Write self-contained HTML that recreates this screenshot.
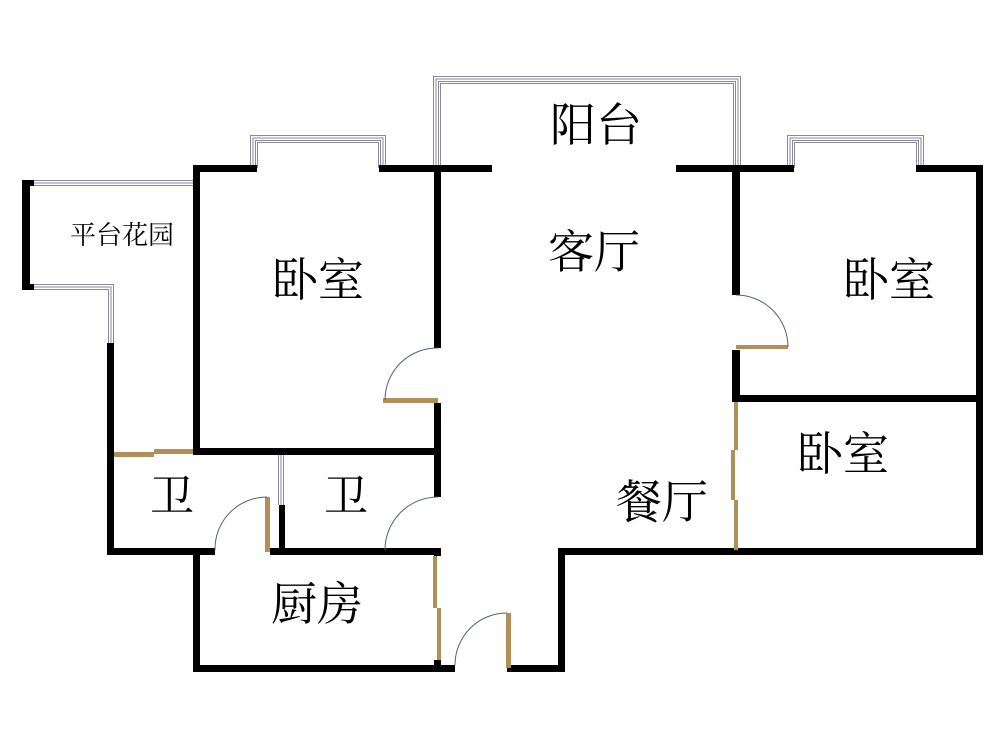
<!DOCTYPE html>
<html><head><meta charset="utf-8"><style>
html,body{margin:0;padding:0;background:#fff;width:1000px;height:742px;overflow:hidden}
svg text{font-family:"Noto Serif CJK SC","Liberation Serif","Noto Sans CJK SC",serif;fill:#000}
</style></head><body>
<svg width="1000" height="742" viewBox="0 0 1000 742" xmlns="http://www.w3.org/2000/svg">
<g fill="none" stroke="#8a8a9a" stroke-width="1">
  <path d="M250.5 168V135.5H385.5V168"/><path d="M253 168V138H383V168"/><path d="M255.5 168V140.5H380.5V168"/><path d="M257.5 168V142.5H378.5V168"/>
  <path d="M787.5 168V135.5H923.5V168"/><path d="M790 168V138H921V168"/><path d="M792.5 168V140.5H918.5V168"/><path d="M794.5 168V142.5H916.5V168"/>
  <path d="M433.5 165V76.5H740.5V165"/><path d="M436 165V79H738V165"/><path d="M438.5 165V81.5H735.5V165"/><path d="M440.5 165V83.5H733.5V165"/>
  <path d="M30 180.5H193M30 183H193M30 185.5H193"/>
  <path d="M30 284.5H113.5V343M30 287H111V343M30 289.5H108.5V343"/>
  <path d="M278.5 455V505M281 455V505M283.5 455V505"/>
</g>
<g fill="#000">
  <rect x="22" y="180" width="8" height="110"/>
  <rect x="22" y="180" width="12" height="6"/><rect x="22" y="284" width="12" height="6"/>
  <rect x="107" y="343" width="7" height="212"/>
  <rect x="107" y="548" width="108" height="7"/>
  <rect x="193" y="165" width="64" height="7"/><rect x="379" y="165" width="113" height="7"/>
  <rect x="193" y="165" width="7" height="290"/>
  <rect x="193" y="548" width="7" height="124"/>
  <rect x="193" y="448" width="248" height="7"/>
  <rect x="434" y="165" width="7" height="183"/>
  <rect x="434" y="403" width="7" height="94"/>
  <rect x="279" y="505" width="6" height="50"/>
  <rect x="270" y="548" width="171" height="7"/>
  <rect x="193" y="665" width="262" height="7"/>
  <rect x="434" y="660" width="7" height="12"/>
  <rect x="434" y="548" width="7" height="8"/>
  <rect x="507" y="665" width="58" height="7"/>
  <rect x="558" y="548" width="7" height="124"/>
  <rect x="558" y="548" width="425" height="7"/>
  <rect x="676" y="165" width="118" height="7"/><rect x="916" y="165" width="67" height="7"/>
  <rect x="976" y="165" width="7" height="390"/>
  <rect x="732" y="165" width="8" height="130"/>
  <rect x="732" y="350" width="8" height="52"/>
  <rect x="732" y="395" width="251" height="7"/>
</g>
<g fill="#b28e58">
  <rect x="114" y="452" width="40" height="5"/><rect x="154" y="449" width="39" height="5"/>
  <rect x="383" y="398" width="55" height="5"/>
  <rect x="265" y="497" width="5" height="55"/>
  <rect x="433" y="556" width="4" height="52"/><rect x="437" y="608" width="4" height="52"/>
  <rect x="506" y="613" width="5" height="55"/>
  <rect x="736" y="345" width="52" height="4"/>
  <rect x="734" y="402" width="4" height="48"/><rect x="731" y="450" width="4" height="50"/><rect x="734" y="500" width="4" height="50"/>
</g>
<g fill="none" stroke="#55607a" stroke-width="1">
  <path d="M438 348A52 52 0 0 0 385 400"/>
  <path d="M438 497A53 53 0 0 0 385 550"/>
  <path d="M267 497A52 52 0 0 0 215 550"/>
  <path d="M507 613A52 52 0 0 0 455 665"/>
  <path d="M736 295A52 52 0 0 1 788 347"/>
</g>
<g font-size="46" text-anchor="middle">
  <text x="596" y="141">阳台</text>
  <text x="594" y="268">客厅</text>
  <text x="318" y="296">卧室</text>
  <text x="889" y="296">卧室</text>
  <text x="843" y="470">卧室</text>
  <text x="662" y="518">餐厅</text>
  <text x="317" y="620">厨房</text>
</g>
<g font-size="44" text-anchor="middle">
  <text x="172" y="511">卫</text>
  <text x="346" y="511">卫</text>
</g>
<text x="122" y="244" font-size="26" text-anchor="middle">平台花园</text>
</svg>
</body></html>
